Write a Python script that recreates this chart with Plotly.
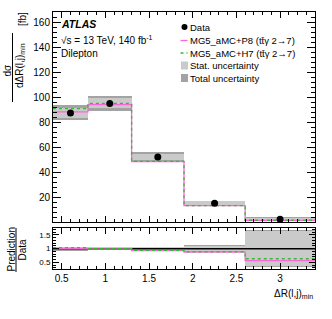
import plotly.graph_objects as go

# ---------------- data ----------------
bin_edges = [0.4, 0.8, 1.3, 1.9, 2.6, 3.4]
data_vals = [87.4, 95.0, 52.0, 15.0, 2.2]
stat_unc = [4.0, 4.0, 2.5, 1.5, 1.4]
total_unc = [6.0, 6.3, 4.0, 2.0, 1.46]
pred_p8 = [88.3, 94.0, 48.4, 13.1, 1.24]
pred_h7 = [90.9, 95.0, 48.6, 13.2, 1.39]

y_ticks = [20, 40, 60, 80, 100, 120, 140, 160]
x_ticks = [0.5, 1, 1.5, 2, 2.5, 3]
r_ticks = [0.5, 1, 1.5]

# ---------------- derived ----------------
centers = [(a + b) / 2 for a, b in zip(bin_edges[:-1], bin_edges[1:])]
widths = [b - a for a, b in zip(bin_edges[:-1], bin_edges[1:])]

W, H = 332, 319
ML, MR, MT, MB = 53, 17, 12, 50
PW, PH = W - ML - MR, H - MT - MB


def px(x):
    return (x - ML) / PW


def py(y):
    return (H - MB - y) / PH


FONT = "Liberation Sans, Arial, Helvetica, sans-serif"
STAT_COL = "#cacaca"
TOT_COL = "#a3a3a3"
P8_COL = "#ff66dd"
H7_COL = "#33bb33"

fig = go.Figure()

# ---- main panel bands ----
fig.add_trace(go.Bar(x=centers, width=widths,
                     base=[d - t for d, t in zip(data_vals, total_unc)],
                     y=[2 * t for t in total_unc], marker=dict(color=TOT_COL, line=dict(width=0)),
                     xaxis="x", yaxis="y", showlegend=False, hoverinfo="skip"))
fig.add_trace(go.Bar(x=centers, width=widths,
                     base=[d - s for d, s in zip(data_vals, stat_unc)],
                     y=[2 * s for s in stat_unc], marker=dict(color=STAT_COL, line=dict(width=0)),
                     xaxis="x", yaxis="y", showlegend=False, hoverinfo="skip"))

# ---- predictions (step lines) ----
fig.add_trace(go.Scatter(x=bin_edges, y=pred_p8 + [pred_p8[-1]], mode="lines",
                         line=dict(color=P8_COL, width=1.3, shape="hv"),
                         xaxis="x", yaxis="y", showlegend=False))
fig.add_trace(go.Scatter(x=bin_edges, y=pred_h7 + [pred_h7[-1]], mode="lines",
                         line=dict(color=H7_COL, width=1.3, shape="hv", dash="dot"),
                         xaxis="x", yaxis="y", showlegend=False))

# ---- data ----
fig.add_trace(go.Scatter(x=centers, y=data_vals, mode="markers",
                         marker=dict(color="black", size=7),
                         xaxis="x", yaxis="y", showlegend=False))

# ---- ratio panel ----
r_tot = [t / d for t, d in zip(total_unc, data_vals)]
r_stat = [s / d for s, d in zip(stat_unc, data_vals)]
fig.add_trace(go.Bar(x=centers, width=widths, base=[1 - r for r in r_tot],
                     y=[2 * r for r in r_tot], marker=dict(color=TOT_COL, line=dict(width=0)),
                     xaxis="x2", yaxis="y2", showlegend=False, hoverinfo="skip"))
fig.add_trace(go.Bar(x=centers, width=widths, base=[1 - r for r in r_stat],
                     y=[2 * r for r in r_stat], marker=dict(color=STAT_COL, line=dict(width=0)),
                     xaxis="x2", yaxis="y2", showlegend=False, hoverinfo="skip"))
ratio_p8 = [p / d for p, d in zip(pred_p8, data_vals)]
ratio_h7 = [p / d for p, d in zip(pred_h7, data_vals)]
fig.add_trace(go.Scatter(x=[bin_edges[0], bin_edges[-1]], y=[1, 1], mode="lines",
                         line=dict(color="black", width=1.5),
                         xaxis="x2", yaxis="y2", showlegend=False))
fig.add_trace(go.Scatter(x=bin_edges, y=ratio_p8 + [ratio_p8[-1]], mode="lines",
                         line=dict(color=P8_COL, width=1.3, shape="hv"),
                         xaxis="x2", yaxis="y2", showlegend=False))
fig.add_trace(go.Scatter(x=bin_edges, y=ratio_h7 + [ratio_h7[-1]], mode="lines",
                         line=dict(color=H7_COL, width=1.3, shape="hv", dash="dot"),
                         xaxis="x2", yaxis="y2", showlegend=False))

axis_common = dict(showline=True, linecolor="black", linewidth=1, mirror="allticks",
                   ticks="inside", tickcolor="black", showgrid=False, zeroline=False,
                   tickfont=dict(family=FONT, size=10, color="black"))

main_bottom = py(222)
ratio_top = py(228)

fig.update_layout(
    width=W, height=H,
    margin=dict(l=ML, r=MR, t=MT, b=MB, autoexpand=False),
    paper_bgcolor="white", plot_bgcolor="white",
    barmode="overlay", bargap=0,
    showlegend=False,
    font=dict(family=FONT, color="black"),
    xaxis=dict(axis_common, domain=[0, 1], range=[0.4, 3.4], anchor="y",
               tickvals=x_ticks, showticklabels=False, ticklen=6,
               minor=dict(ticks="inside", ticklen=3, dtick=0.1, tickcolor="black"),
               matches="x2"),
    yaxis=dict(axis_common, domain=[main_bottom, 1], range=[0, 168.3], anchor="x",
               tickvals=y_ticks, ticklen=8,
               minor=dict(ticks="inside", ticklen=4, dtick=4, tickcolor="black")),
    xaxis2=dict(axis_common, domain=[0, 1], range=[0.4, 3.4], anchor="y2",
                tickvals=x_ticks, ticktext=[str(v) for v in x_ticks], ticklen=6,
                minor=dict(ticks="inside", ticklen=3, dtick=0.1, tickcolor="black")),
    yaxis2=dict(axis_common, domain=[0, ratio_top], range=[0.26, 1.75], anchor="x2",
                tickvals=r_ticks, ticktext=["0.5", "1", "1.5"], ticklen=6,
                tickfont=dict(family=FONT, size=8, color="black"),
                minor=dict(ticks="inside", ticklen=3, dtick=0.1, tickcolor="black")),
)

ann = []
shapes = []


def text(x, y, s, size=10, xanchor="left", angle=0, yanchor="middle"):
    ann.append(dict(x=px(x), y=py(y), xref="paper", yref="paper", text=s, showarrow=False,
                    xanchor=xanchor, yanchor=yanchor, textangle=angle,
                    font=dict(family=FONT, size=size, color="black")))


# labels in plot
text(59, 24, "<b><i>ATLAS</i></b>", size=10.5)
text(59, 40, "\u221as = 13 TeV, 140 fb<sup>-1</sup>", size=10)
text(59, 54, "Dilepton", size=10)

# legend
leg_x = 188
leg_rows = [27, 40.5, 53, 65.5, 78]
leg_text = ["Data", "MG5_aMC+P8 (tt\u0304\u03b3 2\u21927)", "MG5_aMC+H7 (tt\u0304\u03b3 2\u21927)",
            "Stat. uncertainty", "Total uncertainty"]
for yy, s in zip(leg_rows, leg_text):
    text(leg_x, yy, s, size=9.5)
shapes.append(dict(type="circle", xref="paper", yref="paper",
                   x0=px(181.5), x1=px(187.5), y0=py(30), y1=py(24),
                   fillcolor="black", line=dict(width=0)))
shapes.append(dict(type="line", xref="paper", yref="paper", x0=px(180.5), x1=px(187.5),
                   y0=py(leg_rows[1]), y1=py(leg_rows[1]), line=dict(color=P8_COL, width=1.3)))
shapes.append(dict(type="line", xref="paper", yref="paper", x0=px(180.5), x1=px(187.5),
                   y0=py(leg_rows[2]), y1=py(leg_rows[2]), line=dict(color=H7_COL, width=1.3, dash="dot")))
shapes.append(dict(type="rect", xref="paper", yref="paper", x0=px(181), x1=px(188),
                   y0=py(leg_rows[3] + 4), y1=py(leg_rows[3] - 4), fillcolor=STAT_COL, line=dict(width=0)))
shapes.append(dict(type="rect", xref="paper", yref="paper", x0=px(181), x1=px(188),
                   y0=py(leg_rows[4] + 4), y1=py(leg_rows[4] - 4), fillcolor=TOT_COL, line=dict(width=0)))

# y title main (fraction)
text(6.5, 70, "d\u03c3", size=10, xanchor="center", angle=-90)
text(20, 66, "d\u0394R(l,j)<sub>min</sub>", size=10, xanchor="center", angle=-90)
text(22, 19, "[fb]", size=10, xanchor="center", angle=-90)
shapes.append(dict(type="line", xref="paper", yref="paper", x0=px(12.5), x1=px(12.5),
                   y0=py(33), y1=py(102), line=dict(color="black", width=1)))

# ratio y title
text(10.5, 250, "Prediction", size=10, xanchor="center", angle=-90)
text(21.5, 250, "Data", size=10, xanchor="center", angle=-90)
shapes.append(dict(type="line", xref="paper", yref="paper", x0=px(16), x1=px(16),
                   y0=py(228), y1=py(272), line=dict(color="black", width=1)))

# x title
ann.append(dict(x=1, y=py(294), xref="paper", yref="paper", text="\u0394R(l,j)<sub>min</sub>",
                showarrow=False, xanchor="right", yanchor="middle",
                font=dict(family=FONT, size=10, color="black")))

fig.update_layout(annotations=ann, shapes=shapes)
fig.write_html("out.html",
               config={"displayModeBar": False, "staticPlot": True},
               post_script="document.body.style.margin='0';document.body.style.padding='0';"
                           "document.documentElement.style.overflow='hidden';")
